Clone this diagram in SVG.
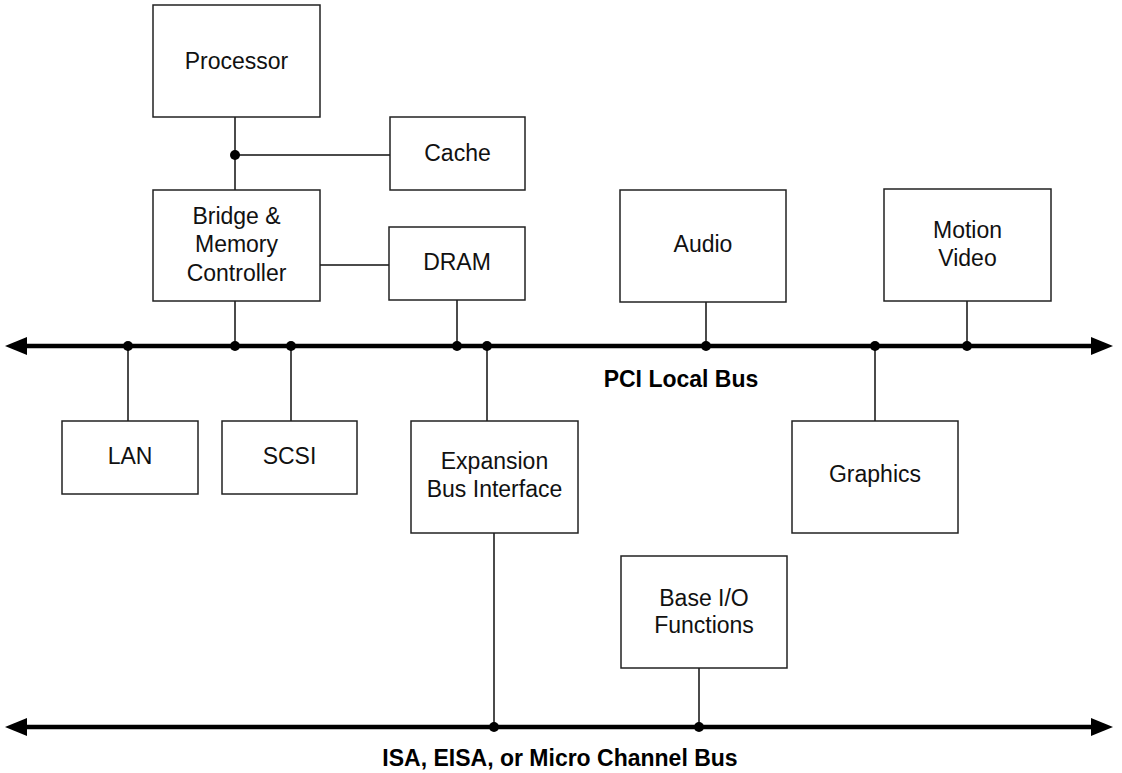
<svg xmlns="http://www.w3.org/2000/svg" width="1122" height="773" viewBox="0 0 1122 773">
<style>
.box{fill:#fff;stroke:#222;stroke-width:1.5}
.t{font-family:"Liberation Sans",Arial,sans-serif;font-size:23px;fill:#111;text-anchor:middle}
.b{font-family:"Liberation Sans",Arial,sans-serif;font-size:23px;font-weight:bold;fill:#000;text-anchor:middle}
.w{stroke:#111;stroke-width:1.5;fill:none}
.bus{stroke:#000;stroke-width:4.5;fill:none}
.dot{fill:#000}
</style>
<rect width="1122" height="773" fill="#fff"/>
<g id="connectors">
<path class="w" d="M235,117V190M235,155H390M320,265H389M235,301V346M457,300V346M487,346V421M706,302V346M967,301V346M875,346V421M128,346V421M291,346V421M494,533V727M699,668V727"/>
<path class="bus" d="M24,346H1094"/>
<polygon points="5,346 27,337 27,355"/>
<polygon points="1113,346 1091,337 1091,355"/>
<path class="bus" d="M24,727H1094"/>
<polygon points="5,727 27,718 27,736"/>
<polygon points="1113,727 1091,718 1091,736"/>
<circle class="dot" cx="235" cy="155" r="5"/>
<circle class="dot" cx="128" cy="346" r="5"/>
<circle class="dot" cx="235" cy="346" r="5"/>
<circle class="dot" cx="291" cy="346" r="5"/>
<circle class="dot" cx="457" cy="346" r="5"/>
<circle class="dot" cx="487" cy="346" r="5"/>
<circle class="dot" cx="706" cy="346" r="5"/>
<circle class="dot" cx="875" cy="346" r="5"/>
<circle class="dot" cx="967" cy="346" r="5"/>
<circle class="dot" cx="494" cy="727" r="5"/>
<circle class="dot" cx="699" cy="727" r="5"/>
</g>
<g id="processor"><rect class="box" x="153" y="5" width="167" height="112"/><text class="t" x="236.5" y="69">Processor</text></g>
<g id="cache"><rect class="box" x="390" y="117" width="135" height="73"/><text class="t" x="457.5" y="161">Cache</text></g>
<g id="bridge"><rect class="box" x="153" y="190" width="167" height="111"/><text class="t" x="236.5" y="224">Bridge &amp;</text><text class="t" x="236.5" y="252">Memory</text><text class="t" x="236.5" y="281">Controller</text></g>
<g id="dram"><rect class="box" x="389" y="227" width="136" height="73"/><text class="t" x="457" y="270">DRAM</text></g>
<g id="audio"><rect class="box" x="620" y="190" width="166" height="112"/><text class="t" x="703" y="252">Audio</text></g>
<g id="motion-video"><rect class="box" x="884" y="189" width="167" height="112"/><text class="t" x="967.5" y="238">Motion</text><text class="t" x="967.5" y="266">Video</text></g>
<g id="pci-label"><text class="b" x="681" y="387">PCI Local Bus</text></g>
<g id="lan"><rect class="box" x="62" y="421" width="136" height="73"/><text class="t" x="130" y="464">LAN</text></g>
<g id="scsi"><rect class="box" x="222" y="421" width="135" height="73"/><text class="t" x="289.5" y="464">SCSI</text></g>
<g id="expansion"><rect class="box" x="411" y="421" width="167" height="112"/><text class="t" x="494.5" y="469">Expansion</text><text class="t" x="494.5" y="497">Bus Interface</text></g>
<g id="graphics"><rect class="box" x="792" y="421" width="166" height="112"/><text class="t" x="875" y="482">Graphics</text></g>
<g id="base-io"><rect class="box" x="621" y="556" width="166" height="112"/><text class="t" x="704" y="606">Base I/O</text><text class="t" x="704" y="633">Functions</text></g>
<g id="isa-label"><text class="b" x="560" y="766">ISA, EISA, or Micro Channel Bus</text></g>
</svg>
